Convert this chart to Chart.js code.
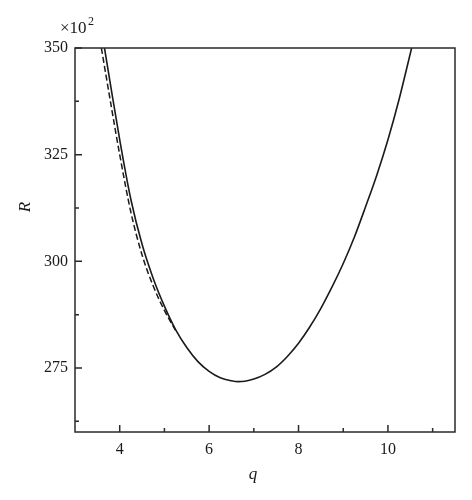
<!DOCTYPE html>
<html>
<head>
<meta charset="utf-8">
<script src="https://cdn.jsdelivr.net/npm/chart.js@4/dist/chart.umd.min.js"></script>
<style>
  html, body { margin: 0; padding: 0; background: #fff; }
  canvas { display: block; }
</style>
</head>
<body>
<canvas id="chart" width="472" height="500"></canvas>
<script>
// 実線のデータ (q, R/100)
const qSolid = [3.66, 3.8, 4.0, 4.25, 4.5, 4.75, 5.0, 5.25, 5.5, 5.75, 6.0, 6.25, 6.5, 6.65, 6.8, 7.0, 7.25, 7.5, 7.75, 8.0, 8.25, 8.5, 8.75, 9.0, 9.25, 9.5, 9.75, 10.0, 10.25, 10.53];
const rSolid = [350, 341, 328.5, 314.5, 304, 296, 289.5, 284, 279.8, 276.5, 274.2, 272.7, 272, 271.8, 271.9, 272.4, 273.5, 275.2, 277.7, 280.8, 284.6, 289, 294, 299.5, 305.7, 312.8, 320.2, 328.5, 338, 350];

// 破線のデータ
const qDashed = [3.59, 3.8, 4.0, 4.25, 4.5, 4.75, 5.0, 5.25];
const rDashed = [350, 337, 325, 311.5, 301.5, 294.2, 288.5, 283.8];

// 目盛り
const xTicks = [4, 6, 8, 10];
const xMinor = [5, 7, 9, 11];
const yTicks = [275, 300, 325, 350];
const yMinor = [262.5, 287.5, 312.5, 337.5];

const toPts = (xs, ys) => xs.map((x, i) => ({ x: x, y: ys[i] }));
const ink = '#1a1a1a';
const serif = "'Liberation Serif', 'DejaVu Serif', serif";

// 枠と内向きの目盛り、軸ラベルを描くプラグイン
const framePlugin = {
  id: 'frame',
  afterDraw(chart) {
    const c = chart.ctx;
    const a = chart.chartArea;
    const xs = chart.scales.x, ys = chart.scales.y;
    c.save();
    c.strokeStyle = '#2a2a2a';
    c.lineWidth = 1.5;
    c.strokeRect(a.left, a.top, a.right - a.left, a.bottom - a.top);
    c.beginPath();
    xTicks.forEach(v => { const p = xs.getPixelForValue(v); c.moveTo(p, a.bottom); c.lineTo(p, a.bottom - 7); });
    xMinor.forEach(v => { const p = xs.getPixelForValue(v); c.moveTo(p, a.bottom); c.lineTo(p, a.bottom - 4); });
    yTicks.forEach(v => { const p = ys.getPixelForValue(v); c.moveTo(a.left, p); c.lineTo(a.left + 7, p); });
    yMinor.forEach(v => { const p = ys.getPixelForValue(v); c.moveTo(a.left, p); c.lineTo(a.left + 4, p); });
    c.stroke();

    c.fillStyle = ink;
    c.font = 'italic 17px ' + serif;
    c.textAlign = 'center';
    c.textBaseline = 'middle';
    c.fillText('q', 253, 475);
    c.save();
    c.translate(26, 207);
    c.rotate(-Math.PI / 2);
    c.fillText('R', 0, 0);
    c.restore();

    c.font = '17px ' + serif;
    c.textAlign = 'left';
    c.fillText('\u00d710', 60, 29);
    c.font = '12px ' + serif;
    c.fillText('2', 88, 22);
    c.restore();
  }
};

new Chart(document.getElementById('chart'), {
  type: 'scatter',
  data: {
    datasets: [
      {
        data: toPts(qSolid, rSolid),
        showLine: true,
        borderColor: ink,
        borderWidth: 1.6,
        pointRadius: 0,
        cubicInterpolationMode: 'monotone'
      },
      {
        data: toPts(qDashed, rDashed),
        showLine: true,
        borderColor: ink,
        borderWidth: 1.5,
        borderDash: [6, 3],
        pointRadius: 0,
        cubicInterpolationMode: 'monotone'
      }
    ]
  },
  options: {
    responsive: false,
    animation: false,
    devicePixelRatio: 1,
    layout: { padding: { top: 48, right: 17, left: 0, bottom: 0 } },
    plugins: { legend: { display: false }, tooltip: { enabled: false } },
    scales: {
      x: {
        type: 'linear',
        min: 3, max: 11.5,
        afterBuildTicks: s => { s.ticks = xTicks.map(v => ({ value: v })); },
        afterFit: s => { s.height = 68; },
        grid: { display: false, drawTicks: false },
        border: { display: false },
        ticks: { color: ink, font: { family: serif, size: 16 }, padding: 8, maxRotation: 0, autoSkip: false }
      },
      y: {
        type: 'linear',
        min: 260, max: 350,
        afterBuildTicks: s => { s.ticks = yTicks.map(v => ({ value: v })); },
        afterFit: s => { s.width = 75; },
        grid: { display: false, drawTicks: false },
        border: { display: false },
        ticks: { color: ink, font: { family: serif, size: 16 }, padding: 7, autoSkip: false }
      }
    }
  },
  plugins: [framePlugin]
});
</script>
</body>
</html>
